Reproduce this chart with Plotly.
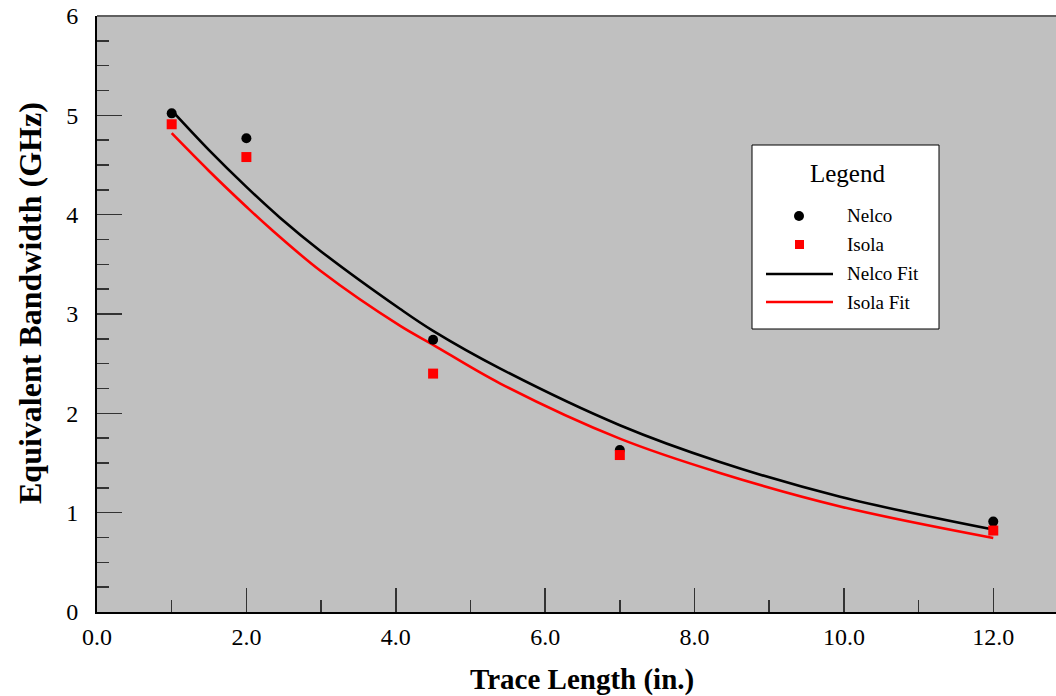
import plotly.graph_objects as go

# ---- data ----
trace_len = [1.0, 2.0, 4.5, 7.0, 12.0]
nelco_bw = [5.02, 4.77, 2.74, 1.63, 0.91]
isola_bw = [4.91, 4.58, 2.40, 1.58, 0.82]

nelco_fit_x = [1.0, 1.5, 2.0, 2.45, 3.0, 4.06, 4.5, 5.4, 7.0, 8.34, 9.95, 12.0]
nelco_fit_y = [5.05, 4.65, 4.28, 3.97, 3.63, 3.05, 2.83, 2.45, 1.88, 1.51, 1.16, 0.83]
isola_fit_x = [1.0, 1.5, 2.0, 2.32, 3.0, 4.06, 4.5, 5.4, 7.0, 8.34, 9.95, 12.0]
isola_fit_y = [4.82, 4.44, 4.08, 3.86, 3.43, 2.88, 2.69, 2.30, 1.745, 1.40, 1.063, 0.745]

x_ticks = [0, 2, 4, 6, 8, 10, 12]
y_ticks = [0, 1, 2, 3, 4, 5, 6]

FONT = "Liberation Serif, Times New Roman, serif"

W, H = 1056, 696
L, R, T, B = 97, 0, 16, 84

def px(xp, yp):
    """window pixel -> paper coords of the plot area"""
    return (xp - L) / (W - L - R), (H - B - yp) / (H - T - B)

fig = go.Figure()
fig.add_trace(go.Scatter(x=nelco_fit_x, y=nelco_fit_y, mode="lines", name="Nelco Fit",
                         line=dict(color="black", width=2.6, shape="spline")))
fig.add_trace(go.Scatter(x=isola_fit_x, y=isola_fit_y, mode="lines", name="Isola Fit",
                         line=dict(color="#FF0000", width=2.6, shape="spline")))
fig.add_trace(go.Scatter(x=trace_len, y=nelco_bw, mode="markers", name="Nelco",
                         marker=dict(symbol="circle", size=10, color="black")))
fig.add_trace(go.Scatter(x=trace_len, y=isola_bw, mode="markers", name="Isola",
                         marker=dict(symbol="square", size=10, color="#FF0000")))

shapes = []
annotations = []

# top border
shapes.append(dict(type="line", xref="paper", yref="paper", x0=0, x1=1, y0=1, y1=1,
                   line=dict(color="#606060", width=2), layer="above"))

# custom legend
bx0, by0 = px(752, 145)
bx1, by1 = px(939, 329)
shapes.append(dict(type="rect", xref="paper", yref="paper", x0=bx0, x1=bx1, y0=by0, y1=by1,
                   fillcolor="white", line=dict(color="black", width=1), layer="above"))
tx, ty = px(847, 173)
annotations.append(dict(text="Legend", xref="paper", yref="paper", x=tx, y=ty,
                        xanchor="center", yanchor="middle", showarrow=False,
                        font=dict(family=FONT, size=25, color="black")))
cx0, cy0 = px(794, 211)
cx1, cy1 = px(804, 221)
shapes.append(dict(type="circle", xref="paper", yref="paper", x0=cx0, x1=cx1, y0=cy0, y1=cy1,
                   fillcolor="black", line=dict(color="black", width=0), layer="above"))
sx0, sy0 = px(795, 240)
sx1, sy1 = px(804, 249)
shapes.append(dict(type="rect", xref="paper", yref="paper", x0=sx0, x1=sx1, y0=sy0, y1=sy1,
                   fillcolor="#FF0000", line=dict(color="#FF0000", width=0), layer="above"))
for yy, col in [(274, "black"), (302, "#FF0000")]:
    lx0, ly = px(766, yy)
    lx1, _ = px(833, yy)
    shapes.append(dict(type="line", xref="paper", yref="paper", x0=lx0, x1=lx1, y0=ly, y1=ly,
                       line=dict(color=col, width=2.6), layer="above"))
for label, yy in [("Nelco", 215), ("Isola", 244), ("Nelco Fit", 273), ("Isola Fit", 302)]:
    ax, ay = px(845, yy)
    annotations.append(dict(text=label, xref="paper", yref="paper", x=ax, y=ay,
                            xanchor="left", yanchor="middle", showarrow=False,
                            font=dict(family=FONT, size=19, color="black")))

# axis titles
ax, ay = px(582, 679)
annotations.append(dict(text="<b>Trace Length (in.)</b>", xref="paper", yref="paper", x=ax, y=ay,
                        xanchor="center", yanchor="middle", showarrow=False,
                        font=dict(family=FONT, size=29, color="black")))
ax, ay = px(30, 303)
annotations.append(dict(text="<b>Equivalent Bandwidth (GHz)</b>", xref="paper", yref="paper",
                        x=ax, y=ay, xanchor="center", yanchor="middle", showarrow=False,
                        textangle=-90, font=dict(family=FONT, size=32, color="black")))

fig.update_layout(
    width=W, height=H,
    margin=dict(l=L, r=R, t=T, b=B, pad=0, autoexpand=False),
    paper_bgcolor="white",
    plot_bgcolor="#C0C0C0",
    showlegend=False,
    hovermode=False,
    font=dict(family=FONT, size=24, color="black"),
    shapes=shapes,
    annotations=annotations,
    xaxis=dict(range=[0, 12.84], tickvals=x_ticks, tickformat=".1f", automargin=False,
               ticks="inside", ticklen=24, tickwidth=1.5, tickcolor="#333333",
               minor=dict(dtick=1, ticks="inside", ticklen=12, tickwidth=1.5, tickcolor="#333333"),
               showline=True, linecolor="black", linewidth=2, showgrid=False, zeroline=False,
               tickfont=dict(family=FONT, size=24, color="black"), ticklabelstandoff=2,
               ticklabeloverflow="allow"),
    yaxis=dict(range=[0, 6], tickvals=y_ticks, automargin=False,
               ticks="inside", ticklen=25, tickwidth=1.5, tickcolor="#333333",
               minor=dict(dtick=0.25, ticks="inside", ticklen=12, tickwidth=1.5, tickcolor="#333333"),
               showline=True, linecolor="black", linewidth=2, showgrid=False, zeroline=False,
               tickfont=dict(family=FONT, size=24, color="black"), ticklabelstandoff=12,
               ticklabeloverflow="allow"),
)

fig.write_html("out.html", config={"displayModeBar": False, "staticPlot": True},
               post_script="document.body.style.margin='0';document.body.style.overflow='hidden';")
